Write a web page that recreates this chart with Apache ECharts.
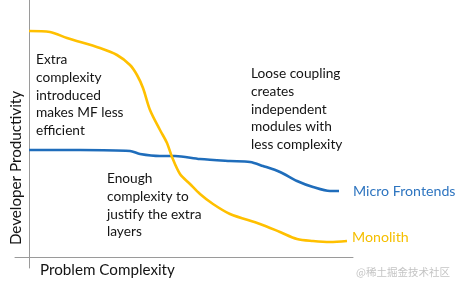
<!DOCTYPE html>
<html><head><meta charset="utf-8">
<script src="https://cdn.jsdelivr.net/npm/echarts@6/dist/echarts.min.js"></script>
<style>html,body{margin:0;padding:0;background:#fff}#c{width:460px;height:288px}</style>
</head><body><div id="c"></div>
<script>
const monolithX = [0,21,38,71,88,101,108,114,121,131,138,143,151,161,171,184,201,231,251,268,284,301,318];
const monolithY = [226,225,219,209,202,192,182,169,147,127,114,100,83,73,63,53,43,33,25,18,16,15,16];
const mfX = [0,51,101,111,131,146,171,201,221,234,251,268,284,301,310];
const mfY = [107,107,106,103,101,101,98,96,95,91,85,76,70,66,66];
const seriesNames = ['Micro Frontends','Monolith'];
const axisNames = ['Problem Complexity','Developer Productivity'];
const notes = [
  'Extra\ncomplexity\nintroduced\nmakes MF less\nefficient',
  'Loose coupling\ncreates\nindependent\nmodules with\nless complexity',
  'Enough\ncomplexity to\njustify the extra\nlayers'
];
const watermark = '@稀土掘金技术社区';

const FONT = 'Lato, "Open Sans", sans-serif';
const chart = echarts.init(document.getElementById('c'), null, {renderer:'canvas'});
const zip = (xs, ys) => xs.map((x,i)=>[x, ys[i]]);
const noteStyle = {fontSize:13.7, fontFamily:FONT, fill:'#141414', lineHeight:17.7, verticalAlign:'top'};
chart.setOption({
  animation:false,
  grid:{left:15,right:107,top:0,bottom:20},
  xAxis:{type:'value',min:-14,max:324,axisLine:{show:true,onZero:true,lineStyle:{color:'#9a9a9a',width:1}},
    axisTick:{show:false},axisLabel:{show:false},splitLine:{show:false}},
  yAxis:{type:'value',min:-11,max:257,axisLine:{show:true,onZero:true,lineStyle:{color:'#9a9a9a',width:1}},
    axisTick:{show:false},axisLabel:{show:false},splitLine:{show:false}},
  series:[
    {name:seriesNames[0],type:'line',data:zip(mfX,mfY),showSymbol:false,smooth:0.3,
     lineStyle:{color:'#1f6dbb',width:2.6},
     endLabel:{show:true,formatter:'{a}',color:'#2e75c0',fontSize:14.2,fontFamily:FONT,offset:[6,0]}},
    {name:seriesNames[1],type:'line',data:zip(monolithX,monolithY),showSymbol:false,smooth:0.3,
     lineStyle:{color:'#ffc000',width:2.6},
     endLabel:{show:true,formatter:'{a}',color:'#f5bf00',fontSize:14.2,fontFamily:FONT,offset:[-3,-4]}}
  ],
  graphic:[
    {type:'text',left:36,top:51,style:Object.assign({text:notes[0]},noteStyle)},
    {type:'text',left:251,top:65,style:Object.assign({text:notes[1]},noteStyle)},
    {type:'text',left:107,top:170,style:Object.assign({text:notes[2]},noteStyle)},
    {type:'text',x:40,y:270,style:{text:axisNames[0],fontSize:15.2,fontFamily:FONT,fill:'#141414',verticalAlign:'middle'}},
    {type:'text',x:16,y:168,rotation:Math.PI/2,style:{text:axisNames[1],fontSize:15.2,fontFamily:FONT,fill:'#141414',align:'center',verticalAlign:'middle'}},
    {type:'text',x:450,y:272,style:{text:watermark,fontSize:10.5,fontFamily:'"Noto Sans CJK SC", sans-serif',fill:'#c4c4c4',align:'right',verticalAlign:'middle'}}
  ]
});
</script></body></html>
